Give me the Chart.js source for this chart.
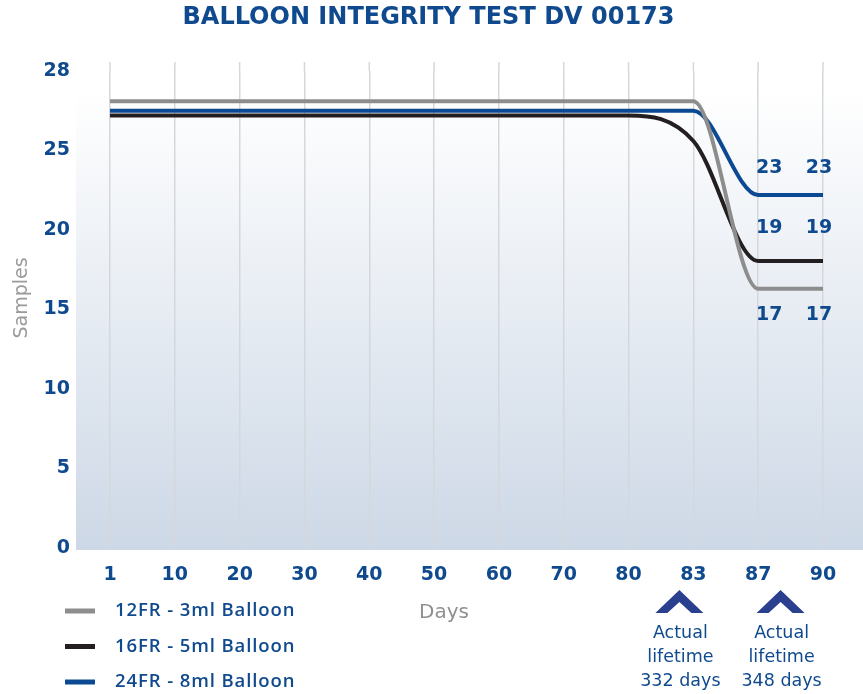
<!DOCTYPE html>
<html>
<head>
<meta charset="utf-8">
<script src="https://cdn.jsdelivr.net/npm/chart.js@4.4.1/dist/chart.umd.min.js"></script>
<style>
  html, body { margin: 0; padding: 0; background: #ffffff; }
</style>
</head>
<body>
<canvas id="chart" width="863" height="694"></canvas>
<script>
// data
const days = ['1', '10', '20', '30', '40', '50', '60', '70', '80', '83', '87', '90'];
const yTickValues = [0, 5, 10, 15, 20, 25, 30];
const yTickLabels = ['0', '5', '10', '15', '20', '25', '28'];

const seriesNames = ['12FR - 3ml Balloon', '16FR - 5ml Balloon', '24FR - 8ml Balloon'];
const balloon12 = [28.1, 28.1, 28.1, 28.1, 28.1, 28.1, 28.1, 28.1, 28.1, 28.1, 16.3, 16.3];
const balloon16 = [27.2, 27.2, 27.2, 27.2, 27.2, 27.2, 27.2, 27.2, 27.2, 25.6, 18.05, 18.05];
const balloon24 = [27.5, 27.5, 27.5, 27.5, 27.5, 27.5, 27.5, 27.5, 27.5, 27.5, 22.2, 22.2];
const endLabels = ['17', '19', '23'];

const chartTitle = 'BALLOON INTEGRITY TEST DV 00173';
const lifetimeNotes = [
    ['Actual', 'lifetime', '332 days'],
    ['Actual', 'lifetime', '348 days']
];

const BLUE_TEXT = '#0f4a8e';
const colors = ['#8d8d8d', '#231f20', '#0b4a93'];
const FONT = 'DejaVu Sans';

// fond dégradé de la zone du graphique
const backgroundPlugin = {
    id: 'plotBackground',
    beforeDraw(chart) {
        const { ctx, chartArea } = chart;
        const left = chartArea.left - 34;
        const top = chartArea.top + 18;
        const bottom = chartArea.bottom + 2;
        const grad = ctx.createLinearGradient(0, top, 0, bottom);
        grad.addColorStop(0, '#ffffff');
        grad.addColorStop(1, '#cdd8e6');
        ctx.save();
        ctx.fillStyle = grad;
        ctx.fillRect(left, top, chart.width - left, bottom - top);
        // les lignes verticales dépassent un peu au-dessus de la zone
        ctx.strokeStyle = '#d5d7dc';
        ctx.lineWidth = 1.5;
        chart.scales.x.ticks.forEach((t, i) => {
            const x = chart.scales.x.getPixelForTick(i);
            ctx.beginPath();
            ctx.moveTo(x, chartArea.top - 9);
            ctx.lineTo(x, chartArea.top);
            ctx.stroke();
        });
        ctx.restore();
    }
};

// valeurs finales au-dessus / en dessous des courbes
const endLabelPlugin = {
    id: 'endLabels',
    afterDatasetsDraw(chart) {
        const { ctx } = chart;
        const dy = [26, -33, -27];
        const dx = [11, -4];
        ctx.save();
        ctx.font = `bold 19px "${FONT}"`;
        ctx.fillStyle = BLUE_TEXT;
        ctx.textAlign = 'center';
        ctx.textBaseline = 'middle';
        chart.data.datasets.forEach((ds, i) => {
            const meta = chart.getDatasetMeta(i);
            [10, 11].forEach((idx, k) => {
                const pt = meta.data[idx];
                ctx.fillText(endLabels[i], pt.x + dx[k], pt.y + dy[i]);
            });
        });
        ctx.restore();
    }
};

// titre, légende, titres d'axes, flèches et notes
const extrasPlugin = {
    id: 'extras',
    afterDraw(chart) {
        const { ctx } = chart;
        const xScale = chart.scales.x;
        ctx.save();
        ctx.textBaseline = 'middle';

        // titre
        ctx.font = `bold 24px "${FONT}"`;
        ctx.fillStyle = BLUE_TEXT;
        ctx.textAlign = 'center';
        ctx.fillText(chartTitle, 428.5, 18);

        // légende
        ctx.font = '600 18.5px "Open Sans"';
        ctx.letterSpacing = '0.9px';
        ctx.textAlign = 'left';
        chart.data.datasets.forEach((ds, i) => {
            const y = 611 + i * 35.5;
            ctx.strokeStyle = ds.borderColor;
            ctx.lineWidth = 5;
            ctx.beginPath();
            ctx.moveTo(65, y);
            ctx.lineTo(95, y);
            ctx.stroke();
            ctx.fillStyle = BLUE_TEXT;
            ctx.fillText(ds.label, 115, y);
        });
        ctx.letterSpacing = '0px';

        // titre de l'axe X
        ctx.font = `20px "${FONT}"`;
        ctx.fillStyle = '#909090';
        ctx.textAlign = 'center';
        ctx.fillText('Days', 444, 613);

        // titre de l'axe Y
        ctx.save();
        ctx.translate(22, 298);
        ctx.rotate(-Math.PI / 2);
        ctx.font = `19px "${FONT}"`;
        ctx.fillStyle = '#9a9a9a';
        ctx.fillText('Samples', 0, 0);
        ctx.restore();

        // flèches + notes
        const anchors = [xScale.getPixelForValue(9) - 14, (xScale.getPixelForValue(10) + xScale.getPixelForValue(11)) / 2 - 10];
        anchors.forEach((cx, n) => {
            ctx.fillStyle = '#2a3f8e';
            ctx.beginPath();
            ctx.moveTo(cx - 24, 613);
            ctx.lineTo(cx, 590);
            ctx.lineTo(cx + 24, 613);
            ctx.lineTo(cx + 12, 613);
            ctx.lineTo(cx, 602);
            ctx.lineTo(cx - 12, 613);
            ctx.closePath();
            ctx.fill();

            ctx.fillStyle = BLUE_TEXT;
            ctx.font = `17.5px "${FONT}"`;
            lifetimeNotes[n].forEach((line, j) => {
                ctx.fillText(line, cx + 1, 633 + j * 24);
            });
        });
        ctx.restore();
    }
};

const ctx = document.getElementById('chart');
new Chart(ctx, {
    type: 'line',
    data: {
        labels: days,
        datasets: [
            { label: seriesNames[0], data: balloon12, borderColor: colors[0], order: 0 },
            { label: seriesNames[1], data: balloon16, borderColor: colors[1], order: 2 },
            { label: seriesNames[2], data: balloon24, borderColor: colors[2], order: 1 }
        ]
    },
    options: {
        responsive: false,
        animation: false,
        devicePixelRatio: 1,
        layout: { padding: { top: 71, left: 10, right: 40, bottom: 106 } },
        elements: {
            line: { borderWidth: 4, cubicInterpolationMode: 'monotone', fill: false },
            point: { radius: 0 }
        },
        plugins: {
            legend: { display: false },
            tooltip: { enabled: false },
            title: { display: false }
        },
        scales: {
            x: {
                afterFit(axis) { axis.height = 40; },
                grid: { color: '#d5d7dc', lineWidth: 1.5, drawTicks: false },
                border: { display: false },
                ticks: {
                    color: BLUE_TEXT,
                    font: { family: FONT, size: 19, weight: 'bold' },
                    padding: 16,
                    maxRotation: 0,
                    autoSkip: false
                }
            },
            y: {
                min: 0,
                max: 30,
                afterFit(axis) { axis.width = 100; },
                afterBuildTicks(axis) {
                    axis.ticks = yTickValues.map(v => ({ value: v }));
                },
                grid: { display: false, drawTicks: false },
                border: { display: false },
                ticks: {
                    color: BLUE_TEXT,
                    font: { family: FONT, size: 19, weight: 'bold' },
                    padding: 40,
                    callback: (value) => yTickLabels[yTickValues.indexOf(value)]
                }
            }
        }
    },
    plugins: [backgroundPlugin, endLabelPlugin, extrasPlugin]
});
</script>
</body>
</html>
